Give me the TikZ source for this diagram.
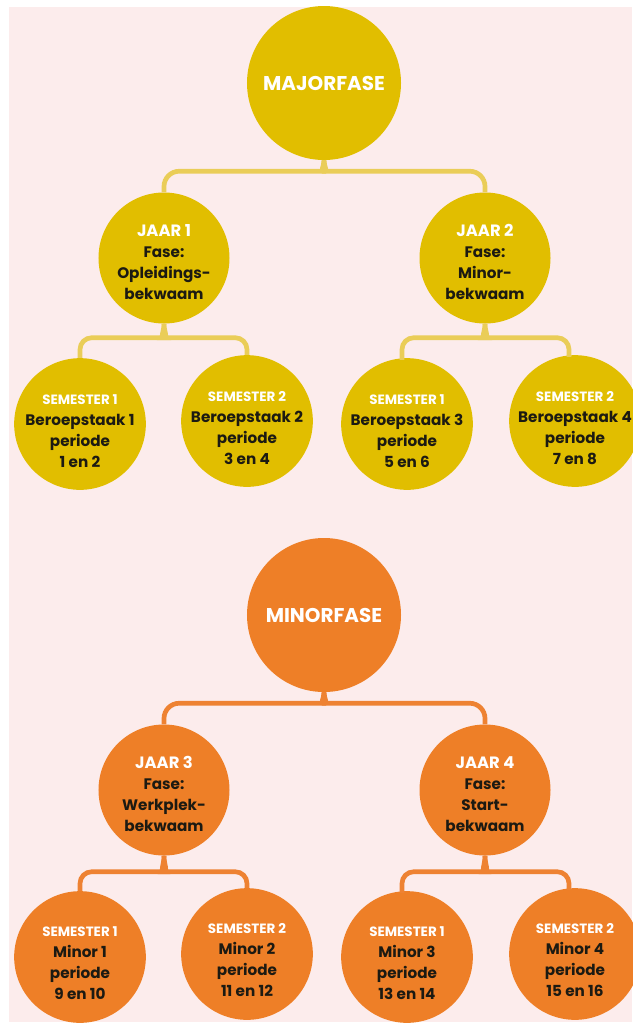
\documentclass[tikz,border=0pt]{standalone}
\usepackage{fontspec}
\setmainfont{Poppins}
\usepackage{xcolor}
\usepackage{tikz}
\usetikzlibrary{positioning,calc}

\definecolor{bgpink}{HTML}{FCECEC}
\definecolor{majyellow}{HTML}{E1BE00}
\definecolor{majlink}{HTML}{EACD58}
\definecolor{minorange}{HTML}{EE7F27}
\definecolor{minlink}{HTML}{EE8232}
\definecolor{inktext}{HTML}{1C1A12}

\newcommand{\yearhead}[1]{{\color{white}\fontsize{14}{18}\selectfont #1}}
\newcommand{\semhead}[1]{{\color{white}\fontsize{11.5}{18}\selectfont #1}}

\tikzset{
  phasecirc/.style={circle, inner sep=0pt, minimum size=4.62cm, text=white,
    font=\bfseries\fontsize{17}{20}\selectfont},
  yearcirc/.style={circle, inner sep=0pt, minimum size=3.93cm},
  semcirc/.style={circle, inner sep=0pt, minimum size=3.95cm},
  celltext/.style={align=center, text=inktext, inner sep=0pt,
    font=\bfseries\fontsize{13}{18}\selectfont},
  majorlink/.style={draw=majlink, line width=4pt},
  minorlink/.style={draw=minlink, line width=4pt}
}

\begin{document}
\begin{tikzpicture}[x=0.03cm, y=-0.03cm]
    \useasboundingbox (0,0) rectangle (632,1028);
    % Background
    \fill[bgpink] (9,7) rectangle (632,1022);

    % Majorfase
    \node[phasecirc, fill=majyellow] (major) at (324,83) {MAJORFASE};

    \node[yearcirc, fill=majyellow] (jaar1) at (164,258) {};
    \node[celltext] (jaar1txt) at ($(jaar1)+(0,4)$)
        {\yearhead{JAAR 1}\\Fase:\\Opleidings-\\bekwaam};
    \node[yearcirc, fill=majyellow] (jaar2) at (485,258) {};
    \node[celltext] (jaar2txt) at ($(jaar2)+(0,4)$)
        {\yearhead{JAAR 2}\\Fase:\\Minor-\\bekwaam};

    \node[semcirc, fill=majyellow] (sem1) at (80,424) {};
    \node[celltext] (sem1txt) at ($(sem1)+(0,7)$)
        {\semhead{SEMESTER 1}\\Beroepstaak 1\\periode\\1 en 2};
    \node[semcirc, fill=majyellow] (sem2) at (247,421) {};
    \node[celltext] (sem2txt) at ($(sem2)+(0,7)$)
        {\semhead{SEMESTER 2}\\Beroepstaak 2\\periode\\3 en 4};
    \node[semcirc, fill=majyellow] (sem3) at (407,424) {};
    \node[celltext] (sem3txt) at ($(sem3)+(0,7)$)
        {\semhead{SEMESTER 1}\\Beroepstaak 3\\periode\\5 en 6};
    \node[semcirc, fill=majyellow] (sem4) at (575,421) {};
    \node[celltext] (sem4txt) at ($(sem4)+(0,7)$)
        {\semhead{SEMESTER 2}\\Beroepstaak 4\\periode\\7 en 8};
    \coordinate (sem3top) at ($(sem3.north)+(-5,2)$);
    \coordinate (sem4top) at ($(sem4.north)+(-6,2)$);

    % Major links
    \draw[majorlink, rounded corners=13pt] (jaar1.north) |- ($(major.south)+(-13,11)$)
        .. controls +(8,0) and +(0,7) .. (major.south);
    \draw[majorlink, rounded corners=13pt] (jaar2.north) |- ($(major.south)+(13,11)$)
        .. controls +(-8,0) and +(0,7) .. (major.south);
    \draw[majorlink, rounded corners=10pt] (sem1.north) |- ($(jaar1.south)+(-12,14)$)
        .. controls +(8,0) and +(0,8) .. (jaar1.south);
    \draw[majorlink, rounded corners=10pt] (sem2.north) |- ($(jaar1.south)+(12,14)$)
        .. controls +(-8,0) and +(0,8) .. (jaar1.south);
    \draw[majorlink, rounded corners=10pt] (sem3top) |- ($(jaar2.south)+(-12,14)$)
        .. controls +(8,0) and +(0,8) .. (jaar2.south);
    \draw[majorlink, rounded corners=10pt] (sem4top) |- ($(jaar2.south)+(12,14)$)
        .. controls +(-8,0) and +(0,8) .. (jaar2.south);

    % Minorfase
    \node[phasecirc, fill=minorange] (minor) at (324,615) {MINORFASE};

    \node[yearcirc, fill=minorange] (jaar3) at (164,790) {};
    \node[celltext] (jaar3txt) at ($(jaar3)+(0,4)$)
        {\yearhead{JAAR 3}\\Fase:\\Werkplek-\\bekwaam};
    \node[yearcirc, fill=minorange] (jaar4) at (485,790) {};
    \node[celltext] (jaar4txt) at ($(jaar4)+(0,4)$)
        {\yearhead{JAAR 4}\\Fase:\\Start-\\bekwaam};

    \node[semcirc, fill=minorange] (sem5) at (80,957) {};
    \node[celltext] (sem5txt) at ($(sem5)+(0,6)$)
        {\semhead{SEMESTER 1}\\Minor 1\\periode\\9 en 10};
    \node[semcirc, fill=minorange] (sem6) at (247,954) {};
    \node[celltext] (sem6txt) at ($(sem6)+(0,6)$)
        {\semhead{SEMESTER 2}\\Minor 2\\periode\\11 en 12};
    \node[semcirc, fill=minorange] (sem7) at (407,957) {};
    \node[celltext] (sem7txt) at ($(sem7)+(0,6)$)
        {\semhead{SEMESTER 1}\\Minor 3\\periode\\13 en 14};
    \node[semcirc, fill=minorange] (sem8) at (575,954) {};
    \node[celltext] (sem8txt) at ($(sem8)+(0,6)$)
        {\semhead{SEMESTER 2}\\Minor 4\\periode\\15 en 16};
    \coordinate (sem7top) at ($(sem7.north)+(-5,2)$);
    \coordinate (sem8top) at ($(sem8.north)+(-6,2)$);

    % Minor links
    \draw[minorlink, rounded corners=13pt] (jaar3.north) |- ($(minor.south)+(-13,11)$)
        .. controls +(8,0) and +(0,7) .. (minor.south);
    \draw[minorlink, rounded corners=13pt] (jaar4.north) |- ($(minor.south)+(13,11)$)
        .. controls +(-8,0) and +(0,7) .. (minor.south);
    \draw[minorlink, rounded corners=10pt] (sem5.north) |- ($(jaar3.south)+(-12,16)$)
        .. controls +(8,0) and +(0,9) .. (jaar3.south);
    \draw[minorlink, rounded corners=10pt] (sem6.north) |- ($(jaar3.south)+(12,16)$)
        .. controls +(-8,0) and +(0,9) .. (jaar3.south);
    \draw[minorlink, rounded corners=10pt] (sem7top) |- ($(jaar4.south)+(-12,16)$)
        .. controls +(8,0) and +(0,9) .. (jaar4.south);
    \draw[minorlink, rounded corners=10pt] (sem8top) |- ($(jaar4.south)+(12,16)$)
        .. controls +(-8,0) and +(0,9) .. (jaar4.south);
\end{tikzpicture}
\end{document}
